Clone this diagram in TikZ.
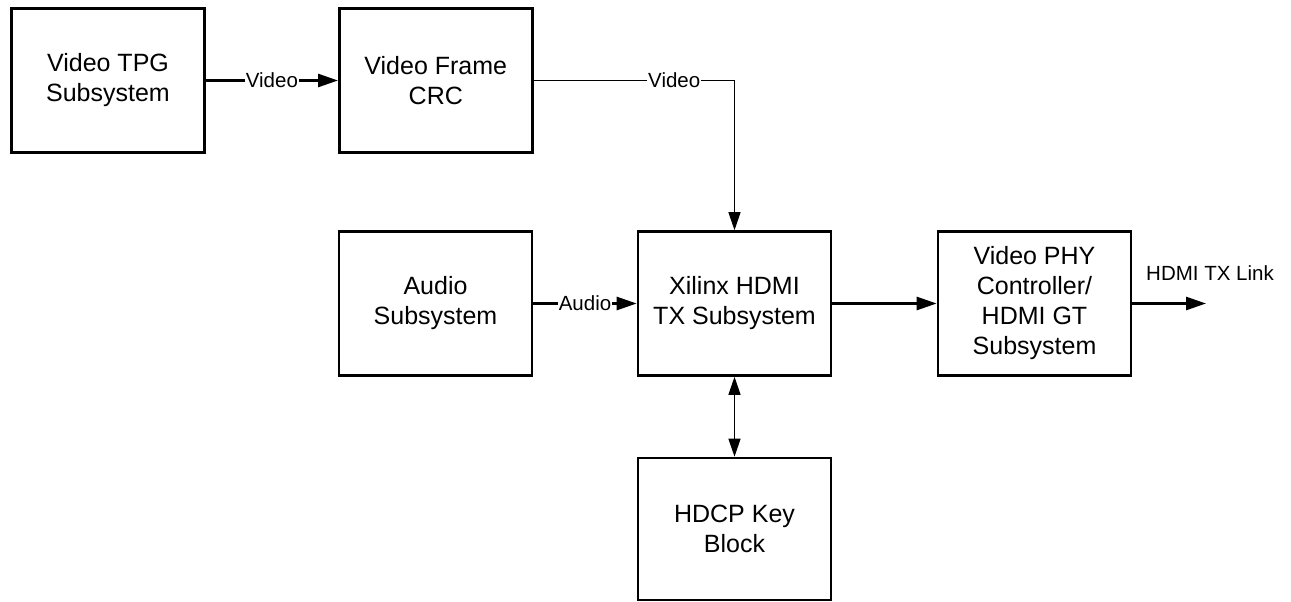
\documentclass[tikz,border=0pt]{standalone}
\usepackage{fontspec}
\setmainfont{Liberation Sans}
\usetikzlibrary{arrows.meta}
\tikzset{
  blk/.style={draw=black, line width=2.6pt, minimum width=193pt, minimum height=144pt,
    align=center, inner sep=0pt, font=\fontsize{25}{30}\selectfont},
  thickcon/.style={line width=2.6pt, -{Triangle[length=20pt,width=13pt]}},
  thincon/.style={line width=1.3pt, -{Triangle[length=18pt,width=12pt]}},
  lbl/.style={fill=white, inner sep=1pt, font=\fontsize{20.5}{24}\selectfont}
}
\begin{document}
\begin{tikzpicture}[x=1pt,y=-1pt]
\useasboundingbox (0,0) rectangle (1291,602);
\node[blk] (tpg) at (108,80.5) {Video TPG\\Subsystem};
\node[blk] (crc) at (435.8,80.5) {Video Frame\\CRC};
\node[blk] (aud) at (435.5,303.5) {Audio\\Subsystem};
\node[blk] (hdmi) at (734.5,303.5) {Xilinx HDMI\\TX Subsystem};
\node[blk] (phy) at (1034.5,303.5) {Video PHY\\Controller/\\HDMI GT\\Subsystem};
\node[blk, minimum height=142pt] (hdcp) at (734.5,529) {HDCP Key\\Block};
\coordinate (out) at (1206,303.5);
\node[font=\fontsize{20.5}{24}\selectfont] (link) at (1210,273) {HDMI TX Link};

\draw[thickcon] (tpg) -- node[lbl] {Video} (crc);
\draw[thincon] (crc.east) -| node[lbl, pos=0.35] {Video} (hdmi.north);
\draw[thickcon] (aud) -- node[lbl] {Audio} (hdmi);
\draw[thickcon] (hdmi) -- (phy);
\draw[thickcon] (phy) -- (out);
\draw[line width=1.3pt, {Triangle[length=18pt,width=12pt]}-{Triangle[length=18pt,width=12pt]}] (hdmi) -- (hdcp);
\end{tikzpicture}
\end{document}
